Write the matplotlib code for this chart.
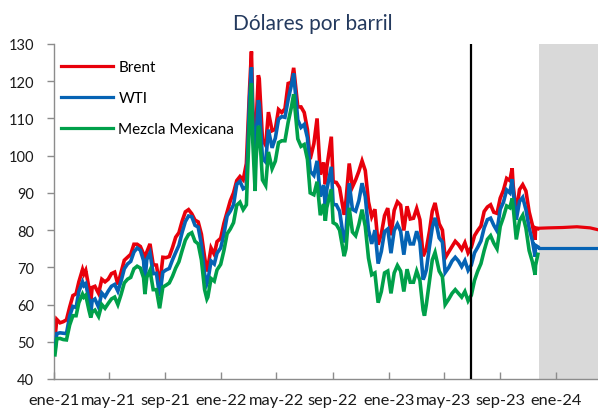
import matplotlib
matplotlib.use("Agg")
import matplotlib.pyplot as plt
import pandas as pd

# ---------------- data (US$ per barrel) ----------------
dates_2021 = ["2021-01-04", "2021-01-08", "2021-01-15", "2021-01-22", "2021-01-29",
              "2021-02-05", "2021-02-12", "2021-02-19", "2021-02-25", "2021-03-05",
              "2021-03-08", "2021-03-12", "2021-03-19", "2021-03-23", "2021-03-26",
              "2021-04-01", "2021-04-09", "2021-04-16", "2021-04-23", "2021-04-30",
              "2021-05-07", "2021-05-14", "2021-05-21", "2021-05-28", "2021-06-04",
              "2021-06-11", "2021-06-18", "2021-06-25", "2021-07-02", "2021-07-09",
              "2021-07-16", "2021-07-19", "2021-07-23", "2021-07-30", "2021-08-06",
              "2021-08-13", "2021-08-20", "2021-08-27", "2021-09-03", "2021-09-10",
              "2021-09-17", "2021-09-24", "2021-10-01", "2021-10-08", "2021-10-15",
              "2021-10-22", "2021-10-29", "2021-11-05", "2021-11-12", "2021-11-19",
              "2021-11-26", "2021-12-01", "2021-12-03", "2021-12-10", "2021-12-17",
              "2021-12-23", "2021-12-31"]
brent_2021 = [51.1, 56.0, 55.1, 55.4, 55.9, 59.3, 62.4, 62.9, 66.1, 69.4,
              68.2, 69.2, 64.5, 60.8, 64.6, 64.9, 63.0, 66.8, 66.1, 66.8,
              68.3, 68.7, 65.4, 68.7, 71.9, 72.7, 73.5, 76.2, 76.2, 75.6,
              73.6, 68.6, 74.1, 76.3, 70.7, 70.6, 65.2, 72.7, 72.6, 72.9,
              75.3, 78.1, 79.3, 82.4, 84.9, 85.5, 84.4, 82.7, 82.2, 78.9,
              72.7, 68.9, 69.9, 75.2, 73.5, 76.9, 77.8]
wti_2021 = [47.6, 52.2, 52.4, 52.3, 52.2, 56.9, 59.5, 59.2, 63.5, 66.1,
            65.1, 65.6, 61.4, 57.8, 61.0, 61.5, 59.3, 63.1, 62.1, 63.6,
            64.9, 65.4, 63.6, 66.3, 69.6, 70.9, 71.6, 74.1, 75.2, 74.6,
            71.8, 66.4, 72.1, 73.9, 68.3, 68.4, 62.3, 68.7, 69.3, 69.7,
            72.0, 74.0, 75.9, 79.4, 82.3, 83.8, 83.6, 81.3, 80.8, 76.1,
            68.2, 65.6, 66.3, 71.7, 70.9, 73.8, 75.2]
mme_2021 = [46.5, 50.8, 50.9, 50.6, 50.5, 54.5, 57.0, 57.0, 60.5, 62.8,
            62.0, 62.5, 58.5, 56.5, 58.0, 58.5, 56.8, 60.0, 59.0, 60.3,
            61.5, 62.0, 60.0, 62.7, 65.8, 66.8, 67.3, 69.6, 70.3, 69.8,
            67.2, 62.8, 67.3, 69.2, 64.0, 64.0, 59.0, 64.7, 65.2, 65.8,
            67.6, 69.8, 71.5, 74.5, 77.3, 78.8, 79.3, 77.0, 76.3, 72.0,
            64.0, 61.5, 62.0, 67.0, 66.3, 69.3, 70.8]

dates_2022 = ["2022-01-07", "2022-01-14", "2022-01-21", "2022-01-28", "2022-02-04",
              "2022-02-11", "2022-02-18", "2022-02-25", "2022-03-04", "2022-03-08",
              "2022-03-11", "2022-03-16", "2022-03-18", "2022-03-23", "2022-03-25",
              "2022-04-01", "2022-04-08", "2022-04-14", "2022-04-22", "2022-04-29",
              "2022-05-06", "2022-05-13", "2022-05-20", "2022-05-27", "2022-06-03",
              "2022-06-08", "2022-06-17", "2022-06-24", "2022-07-01", "2022-07-08",
              "2022-07-14", "2022-07-22", "2022-07-29", "2022-08-05", "2022-08-12",
              "2022-08-16", "2022-08-19", "2022-08-29", "2022-09-02", "2022-09-09",
              "2022-09-16", "2022-09-26", "2022-09-30", "2022-10-07", "2022-10-14",
              "2022-10-21", "2022-10-28", "2022-11-04", "2022-11-11", "2022-11-18",
              "2022-11-25", "2022-12-02", "2022-12-09", "2022-12-16", "2022-12-23",
              "2022-12-30"]
brent_2022 = [81.8, 84.9, 87.9, 90.0, 93.3, 94.4, 93.5, 97.9, 118.1, 128.0,
              112.7, 98.0, 107.9, 121.6, 120.7, 104.4, 102.8, 111.7, 106.7, 107.1,
              112.4, 111.6, 112.6, 119.4, 119.7, 123.6, 113.1, 113.1, 111.6, 107.0,
              99.1, 103.2, 110.0, 94.9, 98.2, 92.3, 96.7, 105.1, 93.0, 92.8,
              91.4, 84.1, 88.0, 97.9, 91.6, 93.5, 95.8, 98.6, 96.0, 87.6,
              83.6, 85.6, 76.1, 79.0, 83.9, 85.9]
wti_2022 = [78.9, 83.8, 85.1, 86.8, 92.3, 93.1, 91.1, 91.6, 115.7, 123.7,
            109.3, 95.0, 104.7, 114.9, 113.9, 99.3, 98.3, 107.0, 102.1, 104.7,
            109.8, 110.5, 110.3, 115.1, 118.9, 122.1, 109.6, 107.6, 108.4, 104.8,
            95.8, 94.7, 98.6, 89.0, 92.1, 86.5, 90.8, 97.0, 86.9, 86.8,
            85.1, 76.7, 79.5, 92.6, 85.6, 85.1, 87.9, 92.6, 89.0, 80.1,
            76.3, 80.0, 71.0, 74.3, 79.6, 80.3]
mme_2022 = [74.5, 79.0, 80.3, 82.0, 86.7, 87.5, 85.5, 86.8, 110.0, 119.5,
            103.5, 90.5, 99.0, 108.0, 107.5, 93.5, 92.0, 101.0, 96.5, 98.5,
            103.5, 104.0, 104.0, 109.0, 113.0, 116.5, 104.5, 102.5, 103.0, 99.0,
            90.0, 89.5, 93.0, 84.0, 87.0, 82.5, 86.0, 91.0, 82.0, 81.5,
            80.0, 73.0, 75.0, 86.0, 79.5, 78.5, 81.5, 85.5, 81.0, 72.5,
            68.0, 68.5, 60.5, 63.5, 68.5, 69.0]

dates_2023 = ["2023-01-06", "2023-01-13", "2023-01-20", "2023-01-27", "2023-02-03",
              "2023-02-10", "2023-02-17", "2023-02-24", "2023-03-03", "2023-03-10",
              "2023-03-17", "2023-03-20", "2023-03-24", "2023-03-31", "2023-04-06",
              "2023-04-12", "2023-04-21", "2023-04-28", "2023-05-04", "2023-05-12",
              "2023-05-19", "2023-05-26", "2023-06-02", "2023-06-09", "2023-06-16",
              "2023-06-23", "2023-06-30", "2023-07-07", "2023-07-14", "2023-07-21",
              "2023-07-28", "2023-08-04", "2023-08-11", "2023-08-18", "2023-08-25",
              "2023-09-01", "2023-09-08", "2023-09-15", "2023-09-22", "2023-09-27",
              "2023-09-29", "2023-10-06", "2023-10-13", "2023-10-20", "2023-10-27",
              "2023-11-03", "2023-11-10", "2023-11-16", "2023-11-17", "2023-11-22"]
brent_2023 = [78.6, 85.3, 87.6, 86.7, 79.9, 86.4, 83.0, 83.2, 85.8, 82.8,
              73.0, 73.8, 75.0, 79.8, 85.1, 87.3, 81.7, 80.0, 72.5, 74.2,
              75.6, 77.0, 76.1, 74.8, 76.6, 73.9, 75.4, 78.5, 79.9, 81.1,
              85.0, 86.2, 86.8, 84.8, 84.5, 88.6, 90.7, 93.9, 93.3, 96.6,
              92.2, 84.6, 90.9, 92.2, 90.5, 84.9, 81.4, 77.4, 80.6, 80.4]
wti_2023 = [73.8, 79.9, 81.6, 79.7, 73.4, 79.7, 76.3, 76.3, 79.7, 76.7,
            66.7, 67.6, 69.3, 75.7, 80.7, 83.3, 77.9, 76.8, 68.6, 70.0,
            71.7, 72.7, 71.7, 70.2, 71.8, 69.2, 70.6, 73.9, 75.4, 77.1,
            80.6, 82.8, 83.2, 81.3, 79.8, 85.6, 87.5, 90.8, 90.0, 93.7,
            90.8, 82.8, 87.7, 88.8, 85.5, 80.5, 77.2, 72.9, 75.9, 75.5]
mme_2023 = [63.0, 68.5, 70.5, 69.0, 63.5, 69.5, 66.0, 66.0, 69.0, 66.5,
            58.5, 57.0, 60.0, 66.5, 72.0, 74.0, 69.0, 67.5, 60.0, 61.5,
            63.0, 64.0, 63.0, 62.0, 63.5, 61.0, 62.5, 66.5, 69.0, 71.0,
            74.5, 77.5, 78.5, 76.5, 75.0, 81.0, 83.5, 86.5, 86.0, 88.5,
            86.5, 77.5, 82.5, 84.0, 80.5, 74.5, 71.5, 68.0, 70.5, 73.5]

# futures (shaded forecast zone)
fut_dates = ["2023-11-24", "2023-12-15", "2024-01-15", "2024-02-15", "2024-03-15", "2024-04-01"]
brent_fut = [80.5, 80.6, 80.7, 80.9, 80.6, 80.1]
wti_fut = [75.3, 75.3, 75.3, 75.3, 75.3, 75.3]

series_names = ["Brent", "WTI", "Mezcla Mexicana"]
series_colors = ["#E8000B", "#0563B4", "#00A04A"]

tick_dates = ["2021-01-01", "2021-05-01", "2021-09-01", "2022-01-01", "2022-05-01",
              "2022-09-01", "2023-01-01", "2023-05-01", "2023-09-01", "2024-01-01"]
tick_labels = ["ene-21", "may-21", "sep-21", "ene-22", "may-22",
               "sep-22", "ene-23", "may-23", "sep-23", "ene-24"]
y_ticks = [40, 50, 60, 70, 80, 90, 100, 110, 120, 130]

vline_date = "2023-06-30"
shade_start = "2023-11-24"
x_start, x_end = "2021-01-01", "2024-04-01"

title = "Dólares por barril"

# ---------------- assemble ----------------
dates = pd.to_datetime(dates_2021 + dates_2022 + dates_2023)
brent = brent_2021 + brent_2022 + brent_2023
wti = wti_2021 + wti_2022 + wti_2023
mme = mme_2021 + mme_2022 + mme_2023
assert len(dates) == len(brent) == len(wti) == len(mme)
fdates = pd.to_datetime(fut_dates)

plt.rcParams['font.family'] = ['Lato', 'DejaVu Sans']

fig = plt.figure(figsize=(5.98, 4.14), dpi=100)
ax = fig.add_axes([53.6 / 598, 1 - 380 / 414, 1 - 53.6 / 598, (380 - 45) / 414])

ax.axvspan(pd.Timestamp(shade_start), pd.Timestamp(x_end), color="#D9D9D9", zorder=0, lw=0)

lw = 2.6
for vals, fut, name, col, z in [(brent, brent_fut, series_names[0], series_colors[0], 2),
                                (wti, wti_fut, series_names[1], series_colors[1], 3),
                                (mme, None, series_names[2], series_colors[2], 4)]:
    ax.plot(dates, vals, color=col, lw=lw, label=name, zorder=z, solid_joinstyle='miter')
    if fut is not None:
        ax.plot(fdates, fut, color=col, lw=2.3, zorder=z)

ax.axvline(pd.Timestamp(vline_date), color="black", lw=1.6, zorder=5)

ax.set_xlim(pd.Timestamp(x_start), pd.Timestamp(x_end))
ax.set_ylim(40, 130)
ax.set_yticks(y_ticks)
ax.set_xticks(pd.to_datetime(tick_dates))
ax.set_xticklabels(tick_labels)

for s in ["top", "right"]:
    ax.spines[s].set_visible(False)
for s in ["left", "bottom"]:
    ax.spines[s].set_color("#8C8C8C")
    ax.spines[s].set_linewidth(1.0)

ax.tick_params(axis="y", direction="out", length=5, width=1, color="#8C8C8C",
               labelsize=10.5, pad=9, labelcolor="#1A1A1A")
ax.tick_params(axis="x", direction="in", length=5, width=1, color="#8C8C8C",
               labelsize=11.8, pad=10, labelcolor="#1A1A1A")

leg = ax.legend(loc="upper left", bbox_to_anchor=(0.0136, 0.951), frameon=False,
                fontsize=11, handlelength=3.43, handletextpad=0.33,
                labelspacing=1.11, borderpad=0, borderaxespad=0)
for h in leg.get_lines():
    h.set_linewidth(2.3)

fig.text(313 / 598, 1 - 30 / 414, title, ha="center", va="baseline",
         fontsize=15, color="#243A5E")

fig.savefig("out.png", dpi=100)
